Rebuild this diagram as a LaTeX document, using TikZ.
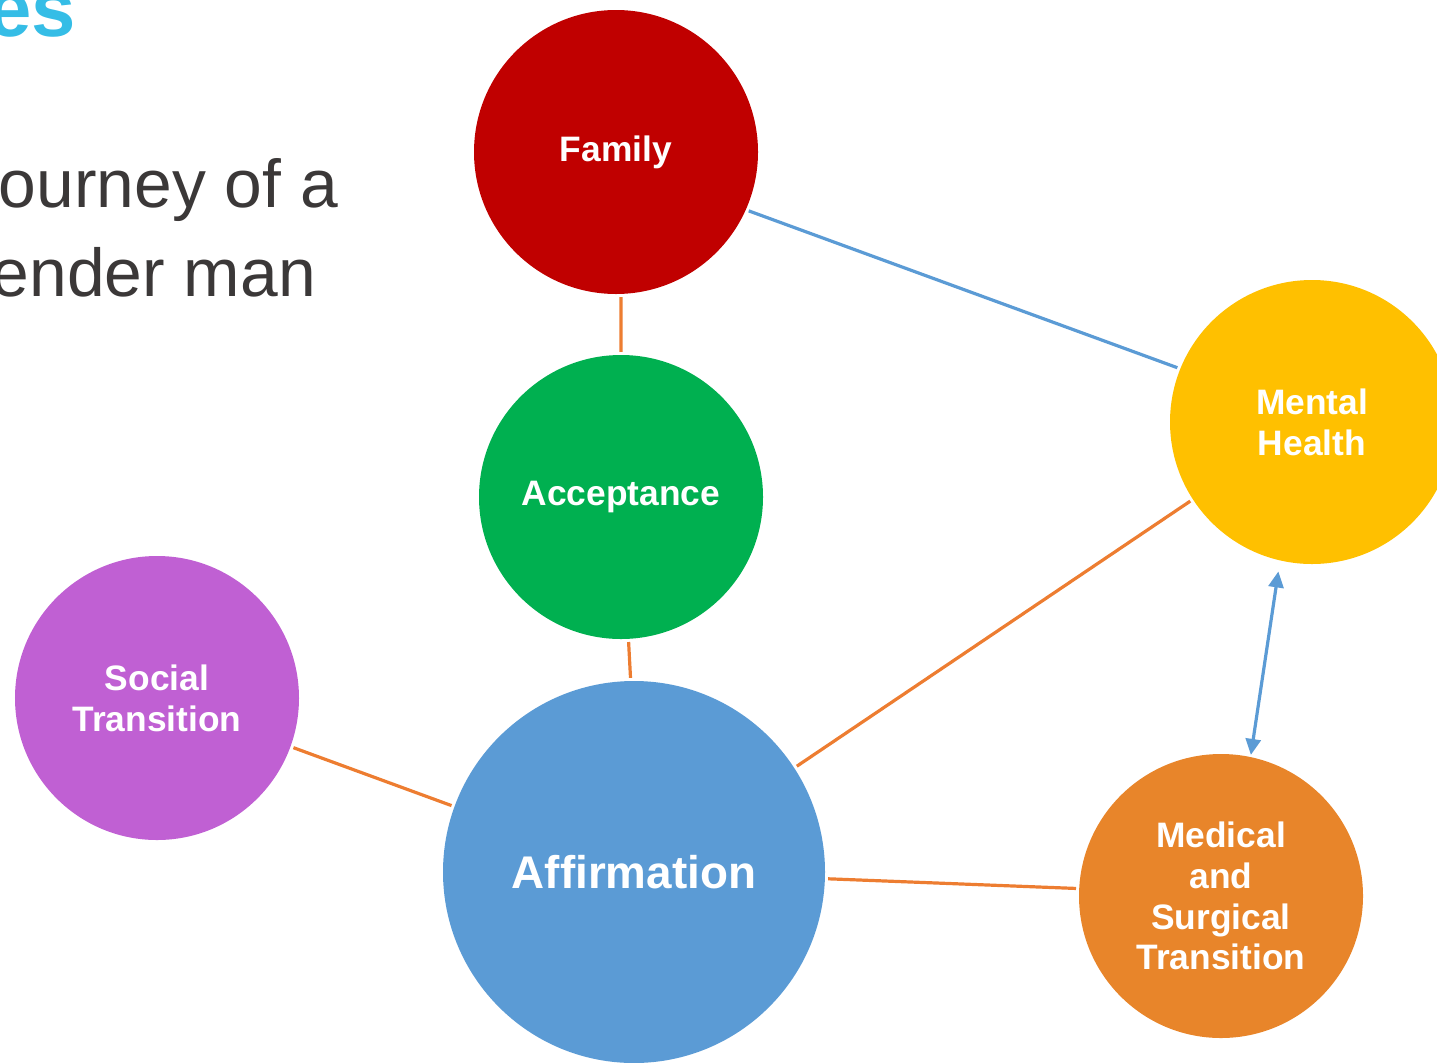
\documentclass[tikz,border=0pt]{standalone}
\usepackage{fontspec}
\setmainfont{Liberation Sans}
\usetikzlibrary{arrows.meta}
\definecolor{famred}{HTML}{C00000}
\definecolor{accgreen}{HTML}{00B050}
\definecolor{menyellow}{HTML}{FFC000}
\definecolor{socpurple}{HTML}{C060D3}
\definecolor{affblue}{HTML}{5B9BD5}
\definecolor{medorange}{HTML}{E8852A}
\definecolor{linorange}{HTML}{ED7D31}
\definecolor{linblue}{HTML}{5B9BD5}
\definecolor{headcyan}{HTML}{35BDE6}
\definecolor{bodygray}{HTML}{3B3838}
\begin{document}
\begin{tikzpicture}[x=1bp,y=-1bp,
  bub/.style={circle, inner sep=0pt, minimum size=284bp, text=white, align=center,
    font=\bfseries\fontsize{35.5}{41}\selectfont},
  bigbub/.style={bub, minimum size=382bp, font=\bfseries\fontsize{46}{52}\selectfont},
  conn/.style={line width=3.2bp, shorten <=3bp, shorten >=3bp},
  oconn/.style={conn, draw=linorange},
  bconn/.style={conn, draw=linblue},
  bodytext/.style={anchor=base east, inner sep=0pt, text=bodygray, font=\fontsize{68}{87}\selectfont}]
\useasboundingbox (0,0) rectangle (1437,1062);
\clip (0,0) rectangle (1437,1062);

% left texts
\node[anchor=base east, inner sep=0pt, text=headcyan, font=\bfseries\fontsize{80}{90}\selectfont] (head) at (76,36) {es};
\node[bodytext] (line1) at (338,207) {ourney of a};
\node[bodytext] (line2) at (316,296) {ender man};

% circles
\node[bub, fill=famred] (fam) at (616,152) {Family};
\node[bub, fill=accgreen] (acc) at (621,497) {Acceptance};
\node[bub, fill=menyellow] (men) at (1312,422) {Mental\\Health};
\node[bub, fill=socpurple] (soc) at (157,698) {Social\\Transition};
\node[bigbub, fill=affblue] (aff) at (634,872) {Affirmation};
\node[bub, fill=medorange] (med) at (1221,896) {Medical\\and\\Surgical\\Transition};

% connectors
\draw[oconn] (fam.-88) -- (acc.north);
\draw[oconn] (acc.-87) -- (aff.91.5);
\draw[bconn] (fam.-24.8) -- (men.158.5);
\draw[oconn] (aff.33.4) -- (men.213.8);
\draw[oconn] (soc.-20) -- (aff.160);
\draw[oconn] (aff.-2.4) -- (med.177.6);
\draw[draw=linblue, line width=3.2bp, shorten <=11bp, shorten >=2bp,
  {Triangle[length=16bp,width=15bp]}-{Triangle[length=16bp,width=15bp]}]
  (men.257.2) -- (med.78.4);
\end{tikzpicture}
\end{document}
